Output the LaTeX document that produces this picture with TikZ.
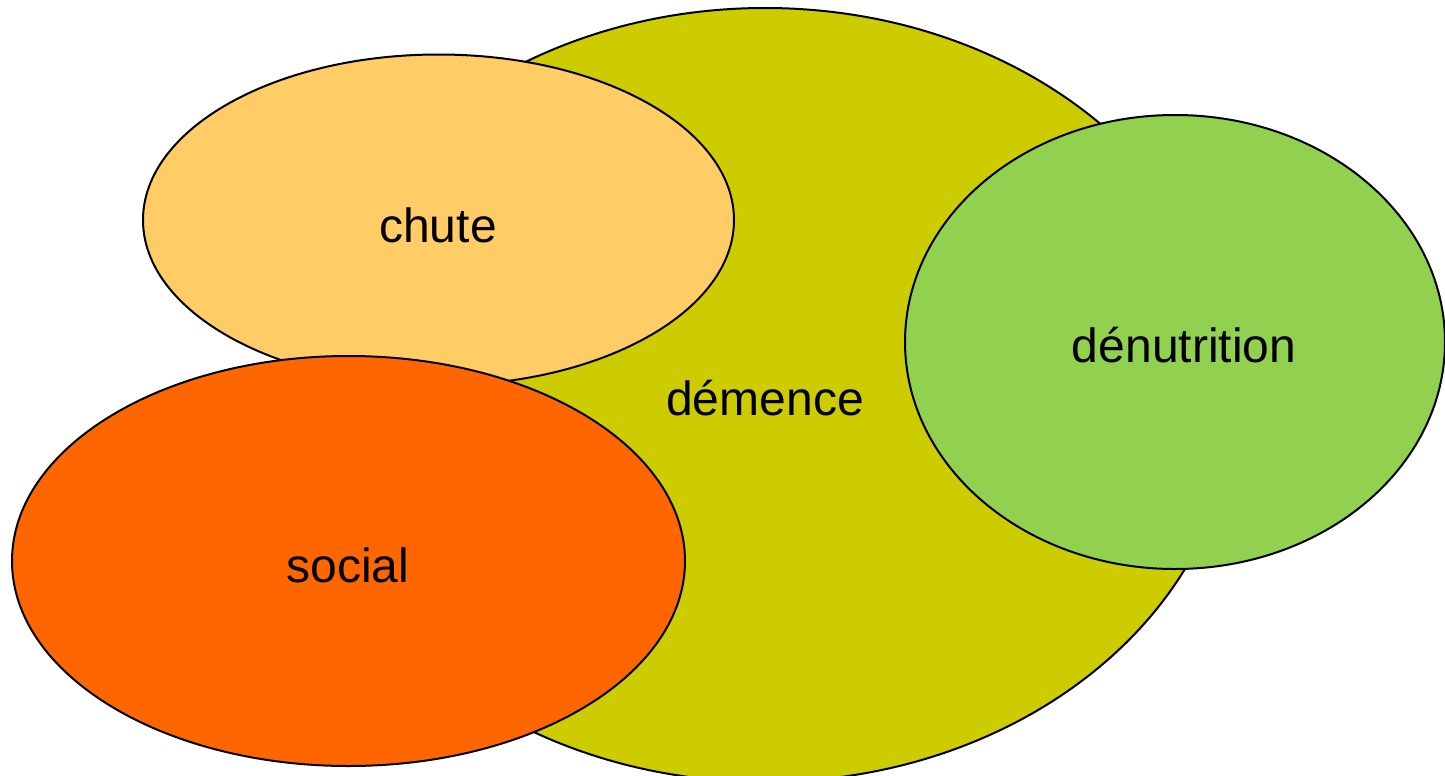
\documentclass[tikz,border=0pt]{standalone}
\usepackage{fontspec}
\setmainfont{Liberation Sans}
\usetikzlibrary{shapes.geometric}
\definecolor{demcol}{HTML}{CCCC00}
\definecolor{chutecol}{HTML}{FFCC66}
\definecolor{socialcol}{HTML}{FF6600}
\definecolor{denutcol}{HTML}{92D050}
\begin{document}
\begin{tikzpicture}[x=1pt,y=-1pt,
  blob/.style={ellipse, draw=black, line width=2pt, inner sep=0pt},
  lbl/.style={font=\fontsize{48}{57}\selectfont, inner sep=0pt}]
\useasboundingbox (0,0) rectangle (1445,776);
\node[blob, fill=demcol, minimum width=940pt, minimum height=774pt] (demence) at (765,395) {};
\node[lbl] (demtext) at (765,398) {démence};
\node[blob, fill=chutecol, minimum width=591pt, minimum height=331pt] (chute) at (438.5,220) {};
\node[lbl] (chutetext) at (438,225) {chute};
\node[blob, fill=socialcol, minimum width=673pt, minimum height=410pt] (social) at (348.5,561) {};
\node[lbl] (socialtext) at (348,565) {social};
\node[blob, fill=denutcol, minimum width=540pt, minimum height=454pt] (denut) at (1175,342) {};
\node[lbl] (denuttext) at (1184,345) {dénutrition};
\end{tikzpicture}
\end{document}
